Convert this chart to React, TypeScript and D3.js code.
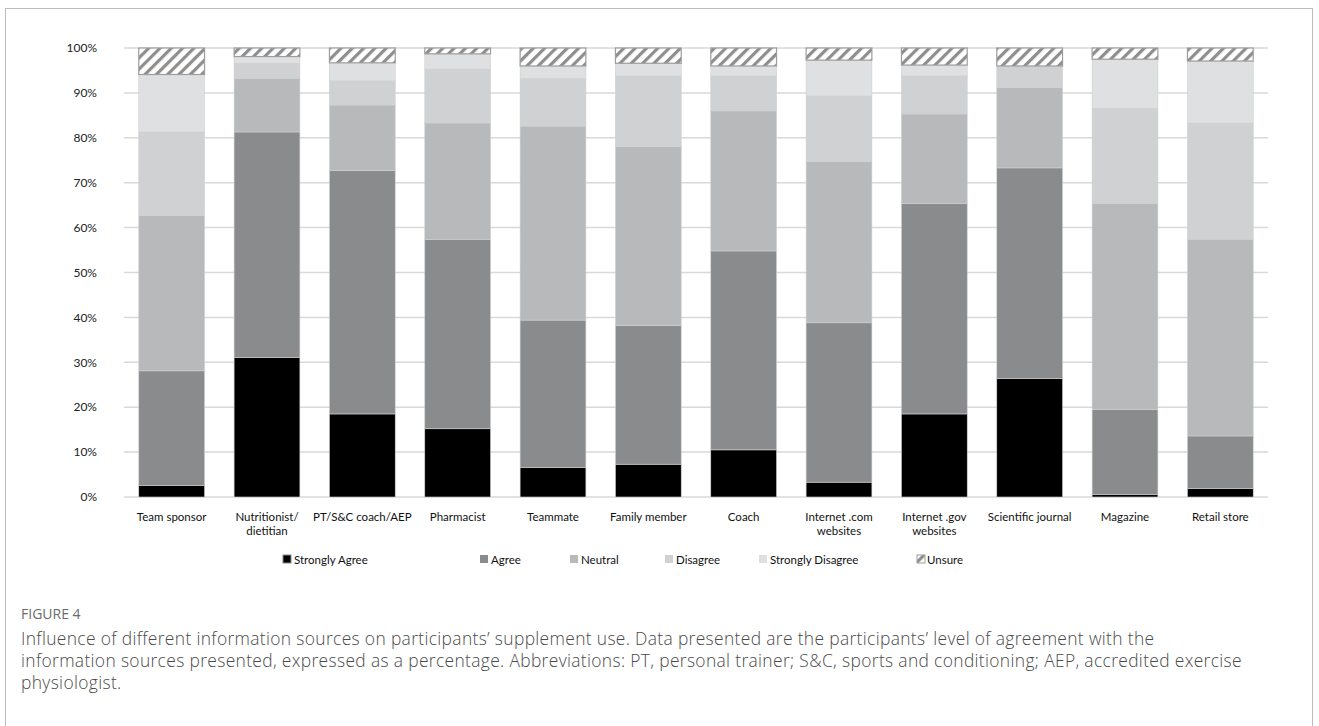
import React, { useEffect, useRef } from 'react'
import * as d3 from 'd3'

const categories = [
  'Team sponsor', 'Nutritionist/|dietitian', 'PT/S&C coach/AEP', 'Pharmacist', 'Teammate',
  'Family member', 'Coach', 'Internet .com|websites', 'Internet .gov|websites',
  'Scientific journal', 'Magazine', 'Retail store'
]

const seriesNames = ['Strongly Agree', 'Agree', 'Neutral', 'Disagree', 'Strongly Disagree', 'Unsure']

// percentages per category, in the same order as categories
const stronglyAgree = [2.6, 31.1, 18.5, 15.2, 6.6, 7.3, 10.5, 3.3, 18.5, 26.4, 0.6, 1.9]
const agree = [25.5, 50.2, 54.2, 42.2, 32.8, 30.9, 44.3, 35.5, 46.9, 46.9, 18.9, 11.7]
const neutral = [34.6, 11.9, 14.6, 25.9, 43.2, 39.8, 31.2, 35.9, 19.9, 17.9, 45.9, 43.8]
const disagree = [18.6, 3.4, 5.4, 12.0, 10.6, 15.8, 7.8, 14.6, 8.5, 4.8, 21.2, 25.9]
const stronglyDisagree = [12.8, 1.5, 4.0, 3.4, 2.8, 2.8, 2.2, 8.0, 2.4, 0.0, 10.9, 13.8]
const unsure = [5.9, 1.9, 3.3, 1.3, 4.0, 3.4, 4.0, 2.7, 3.8, 4.0, 2.5, 2.9]

const yTicks = [0, 10, 20, 30, 40, 50, 60, 70, 80, 90, 100]

const colors = ['#000000', '#8a8b8d', '#b8b9bb', '#d0d1d3', '#dfe0e2', 'url(#hatch)']

const captionLines = [
  'Influence of different information sources on participants\u2019 supplement use. Data presented are the participants\u2019 level of agreement with the',
  'information sources presented, expressed as a percentage. Abbreviations: PT, personal trainer; S&C, sports and conditioning; AEP, accredited exercise',
  'physiologist.'
]

const W = 1319
const H = 726
const margin = { top: 48, left: 124, right: 51, bottom: 229 }
const chartFont = 'Lato, "Liberation Sans", sans-serif'

export default function App () {
  const root = useRef<SVGSVGElement>(null)

  useEffect(() => {
    const svg = d3.select(root.current)
    svg.selectAll('*').remove()

    const innerW = W - margin.left - margin.right
    const innerH = H - margin.top - margin.bottom

    const values = [stronglyAgree, agree, neutral, disagree, stronglyDisagree, unsure]
    const table = categories.map((c, i) => {
      const row: any = { category: c }
      seriesNames.forEach((s, k) => { row[s] = values[k][i] })
      return row
    })
    const stacked = d3.stack().keys(seriesNames)(table)

    // hatch pattern for "Unsure"
    const defs = svg.append('defs')
    const pat = defs.append('pattern')
      .attr('id', 'hatch')
      .attr('patternUnits', 'userSpaceOnUse')
      .attr('width', 8)
      .attr('height', 8)
      .attr('patternTransform', 'rotate(45)')
    pat.append('rect').attr('width', 8).attr('height', 8).attr('fill', '#ffffff')
    pat.append('rect').attr('x', 0).attr('width', 3.2).attr('height', 8).attr('fill', '#8e8e8e')

    // figure frame
    svg.append('rect')
      .attr('x', 5.5).attr('y', 8.5)
      .attr('width', 1307).attr('height', 760)
      .attr('fill', 'none').attr('stroke', '#bdbdbd').attr('stroke-width', 1)

    const x = d3.scaleBand().domain(categories).range([0, innerW]).paddingInner(0.31).paddingOuter(0.155)
    const y = d3.scaleLinear().domain([0, 100]).range([innerH, 0])

    const g = svg.append('g').attr('transform', 'translate(' + margin.left + ',' + margin.top + ')')

    g.append('g').selectAll('line')
      .data(yTicks)
      .enter().append('line')
        .attr('x1', 0).attr('x2', innerW)
        .attr('y1', (d) => y(d)).attr('y2', (d) => y(d))
        .attr('stroke', '#d9d9d9').attr('stroke-width', 1.5)

    g.append('g').selectAll('text')
      .data(yTicks)
      .enter().append('text')
        .attr('x', -27).attr('y', (d) => y(d))
        .attr('dy', '0.35em')
        .attr('text-anchor', 'end')
        .attr('font-family', chartFont).attr('font-size', 12).attr('fill', '#222')
        .text((d) => d + '%')

    const layers = g.append('g').selectAll('g')
      .data(stacked)
      .enter().append('g')
        .attr('fill', (d, i) => colors[i])
        .attr('stroke', (d, i) => i === 5 ? '#9d9d9d' : '#cfcfcf')
        .attr('stroke-width', (d, i) => i === 5 ? 1.2 : 0.6)

    layers.selectAll('rect')
      .data((d) => d.filter((s) => s[1] - s[0] > 0))
      .enter().append('rect')
        .attr('x', (d: any) => x(d.data.category))
        .attr('y', (d) => y(d[1]))
        .attr('width', x.bandwidth())
        .attr('height', (d) => y(d[0]) - y(d[1]))

    // category labels, "|" marks a line break
    const labels = g.append('g').selectAll('text')
      .data(categories)
      .enter().append('text')
        .attr('x', (d) => x(d) + x.bandwidth() / 2)
        .attr('y', innerH + 24)
        .attr('text-anchor', 'middle')
        .attr('font-family', chartFont).attr('font-size', 11.5).attr('fill', '#111')
    labels.selectAll('tspan')
      .data((d) => d.split('|'))
      .enter().append('tspan')
        .attr('x', function () { return (this.parentNode as any).getAttribute('x') })
        .attr('dy', (d, i) => i === 0 ? 0 : 14)
        .text((d) => d)

    // legend
    const legendX = [283, 480, 570, 665, 759, 917]
    const legend = svg.append('g').selectAll('g')
      .data(seriesNames)
      .enter().append('g')
        .attr('transform', (d, i) => 'translate(' + legendX[i] + ',560)')
    legend.append('rect')
      .attr('x', 0).attr('y', -5).attr('width', 8).attr('height', 8)
      .attr('fill', (d, i) => colors[i])
      .attr('stroke', (d, i) => i === 0 ? '#888' : i === 5 ? '#9d9d9d' : 'none')
      .attr('stroke-width', 1)
    legend.append('text')
      .attr('x', (d, i) => i === 5 ? 10 : 11).attr('y', 0)
      .attr('dy', '0.35em')
      .attr('font-family', chartFont).attr('font-size', 11.5).attr('fill', '#111')
      .text((d) => d)

    // caption
    svg.append('text')
      .attr('x', 21).attr('y', 619)
      .attr('font-family', '"Open Sans", sans-serif').attr('font-size', 14)
      .attr('fill', '#6b6b6b')
      .text('FIGURE 4')

    svg.append('g').selectAll('text')
      .data(captionLines)
      .enter().append('text')
        .attr('x', 21).attr('y', (d, i) => 645 + i * 22)
        .attr('font-family', '"Open Sans", sans-serif').attr('font-size', 17.4)
        .attr('font-weight', 300)
        .attr('letter-spacing', 0.35)
        .attr('fill', '#4a4a4a')
        .text((d) => d)
  }, [])

  return (
    <svg ref={root} width={W} height={H} style={{ position: 'absolute', left: 0, top: 0, background: '#fff' }} />
  )
}
